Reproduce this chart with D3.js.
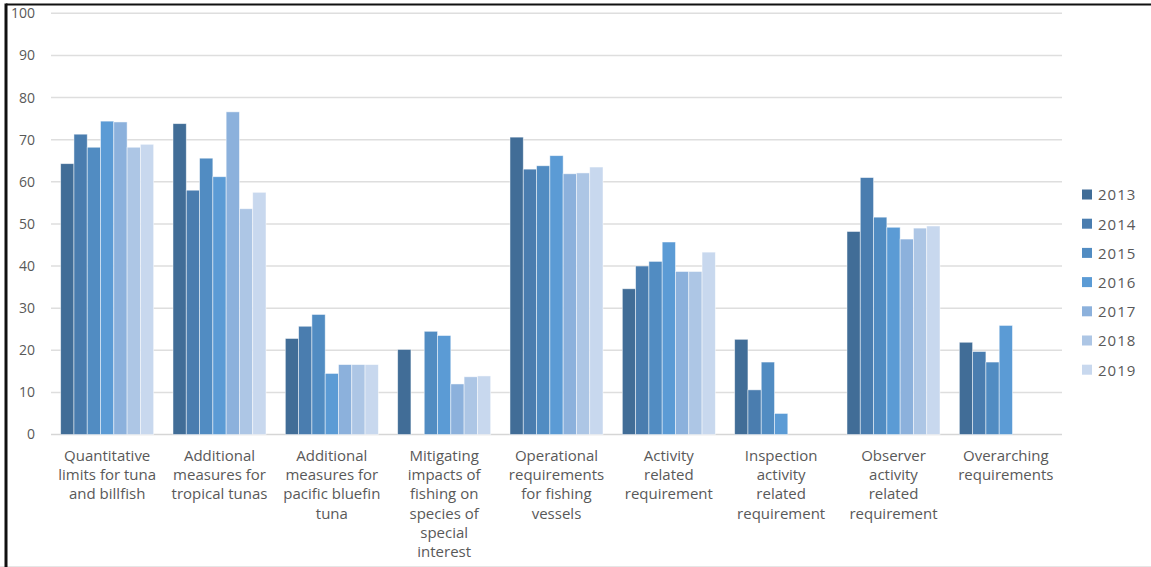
<!DOCTYPE html>
<html>
<head>
<meta charset="utf-8">
<script src="https://cdn.jsdelivr.net/npm/d3@7"></script>
<style>
  html, body { margin: 0; padding: 0; background: #fff; }
  svg { display: block; }
  text { font-family: "Open Sans", Lato, "Noto Sans", sans-serif; }
</style>
</head>
<body>
<svg id="chart" width="1151" height="567"></svg>
<script>
// Categories (wrapped label lines)
const categories = [
  ["Quantitative", "limits for tuna", "and billfish"],
  ["Additional", "measures for", "tropical tunas"],
  ["Additional", "measures for", "pacific bluefin", "tuna"],
  ["Mitigating", "impacts of", "fishing on", "species of", "special", "interest"],
  ["Operational", "requirements", "for fishing", "vessels"],
  ["Activity", "related", "requirement"],
  ["Inspection", "activity", "related", "requirement"],
  ["Observer", "activity", "related", "requirement"],
  ["Overarching", "requirements"]
];

const years = ["2013", "2014", "2015", "2016", "2017", "2018", "2019"];

// One array per year, one value per category (null = no bar)
const v2013 = [64.3, 73.8, 22.8, 20.2, 70.6, 34.6, 22.6, 48.2, 21.9];
const v2014 = [71.3, 58.0, 25.7, null, 63.0, 40.0, 10.6, 61.0, 19.7];
const v2015 = [68.2, 65.6, 28.5, 24.5, 63.8, 41.1, 17.2, 51.6, 17.2];
const v2016 = [74.4, 61.2, 14.5, 23.5, 66.2, 45.7, 5.0, 49.2, 25.9];
const v2017 = [74.2, 76.6, 16.6, 12.0, 61.9, 38.7, null, 46.4, null];
const v2018 = [68.2, 53.6, 16.6, 13.7, 62.1, 38.7, null, 49.0, null];
const v2019 = [68.9, 57.5, 16.6, 13.9, 63.5, 43.3, null, 49.5, null];

const yTicks = [0, 10, 20, 30, 40, 50, 60, 70, 80, 90, 100];

const colors = ["#416d97", "#4a7daf", "#518cc2", "#5b9bd5", "#8cb1dc", "#adc6e5", "#c8d8ee"];

const seriesValues = [v2013, v2014, v2015, v2016, v2017, v2018, v2019];

const svg = d3.select("#chart");
const W = 1151, H = 567;

// Frame
svg.append("rect").attr("x", 0).attr("y", 0).attr("width", W).attr("height", H).attr("fill", "#fff");
svg.append("line").attr("x1", 0).attr("x2", W).attr("y1", 566.5).attr("y2", 566.5)
  .attr("stroke", "#e6e6e6").attr("stroke-width", 1);
svg.append("line").attr("x1", 6).attr("x2", W).attr("y1", 4.5).attr("y2", 4.5)
  .attr("stroke", "#111").attr("stroke-width", 2);
svg.append("line").attr("x1", 6).attr("x2", 6).attr("y1", 3.5).attr("y2", H)
  .attr("stroke", "#111").attr("stroke-width", 3);

const plot = { left: 51, right: 1062, top: 13.3, bottom: 434.5 };

const n = categories.length;
const pad = 0.172;
const x0 = d3.scaleBand()
  .domain(d3.range(n))
  .range([plot.left, plot.right])
  .paddingInner(pad)
  .paddingOuter(pad / 2);

const x1 = d3.scaleBand()
  .domain(years)
  .range([0, x0.bandwidth()]);

const y = d3.scaleLinear().domain([0, 100]).range([plot.bottom, plot.top]);

// Gridlines
svg.append("g")
  .attr("class", "grid")
  .selectAll("line")
  .data(yTicks)
  .join("line")
  .attr("x1", plot.left).attr("x2", plot.right)
  .attr("y1", d => y(d)).attr("y2", d => y(d))
  .attr("stroke", d => d === 0 ? "#d6d6d6" : "#dedede")
  .attr("stroke-width", 1.5);

// Y tick labels
const yAxis = d3.axisLeft(y).tickValues(yTicks).tickSize(0).tickPadding(0);
const gy = svg.append("g").attr("transform", "translate(35,0)").call(yAxis);
gy.select(".domain").remove();
gy.selectAll("text")
  .attr("fill", "#595959")
  .attr("font-size", 14)
  .attr("font-family", "'Open Sans', Lato, sans-serif");

// Bars
const groups = svg.append("g").selectAll("g")
  .data(d3.range(n))
  .join("g")
  .attr("transform", i => `translate(${x0(i)},0)`);

groups.selectAll("rect")
  .data(i => years.map((yr, k) => ({ yr, k, v: seriesValues[k][i] })).filter(d => d.v != null))
  .join("rect")
  .attr("x", d => x1(d.yr))
  .attr("y", d => y(d.v))
  .attr("width", x1.bandwidth())
  .attr("height", d => y(0) - y(d.v))
  .attr("fill", d => colors[d.k])
  .attr("stroke", "#ffffff")
  .attr("stroke-opacity", 0.6)
  .attr("stroke-width", 0.8);

// Category labels
const labels = svg.append("g").selectAll("text")
  .data(categories)
  .join("text")
  .attr("x", (d, i) => x0(i) + x0.bandwidth() / 2)
  .attr("y", 461)
  .attr("text-anchor", "middle")
  .attr("fill", "#595959")
  .attr("font-size", 15);
labels.selectAll("tspan")
  .data(d => d)
  .join("tspan")
  .attr("x", function () { return d3.select(this.parentNode).attr("x"); })
  .attr("dy", (d, j) => j === 0 ? 0 : 19.2)
  .text(d => d);

// Legend
const legend = svg.append("g").selectAll("g")
  .data(years)
  .join("g")
  .attr("transform", (d, i) => `translate(1082,${195 + i * 29.2})`);
legend.append("rect")
  .attr("x", 0).attr("y", -5.5).attr("width", 10).attr("height", 10)
  .attr("fill", (d, i) => colors[i]);
legend.append("text")
  .attr("x", 16).attr("y", 0).attr("dy", "0.36em")
  .attr("fill", "#595959")
  .attr("font-size", 15)
  .attr("letter-spacing", 1)
  .text(d => d);
</script>
</body>
</html>
